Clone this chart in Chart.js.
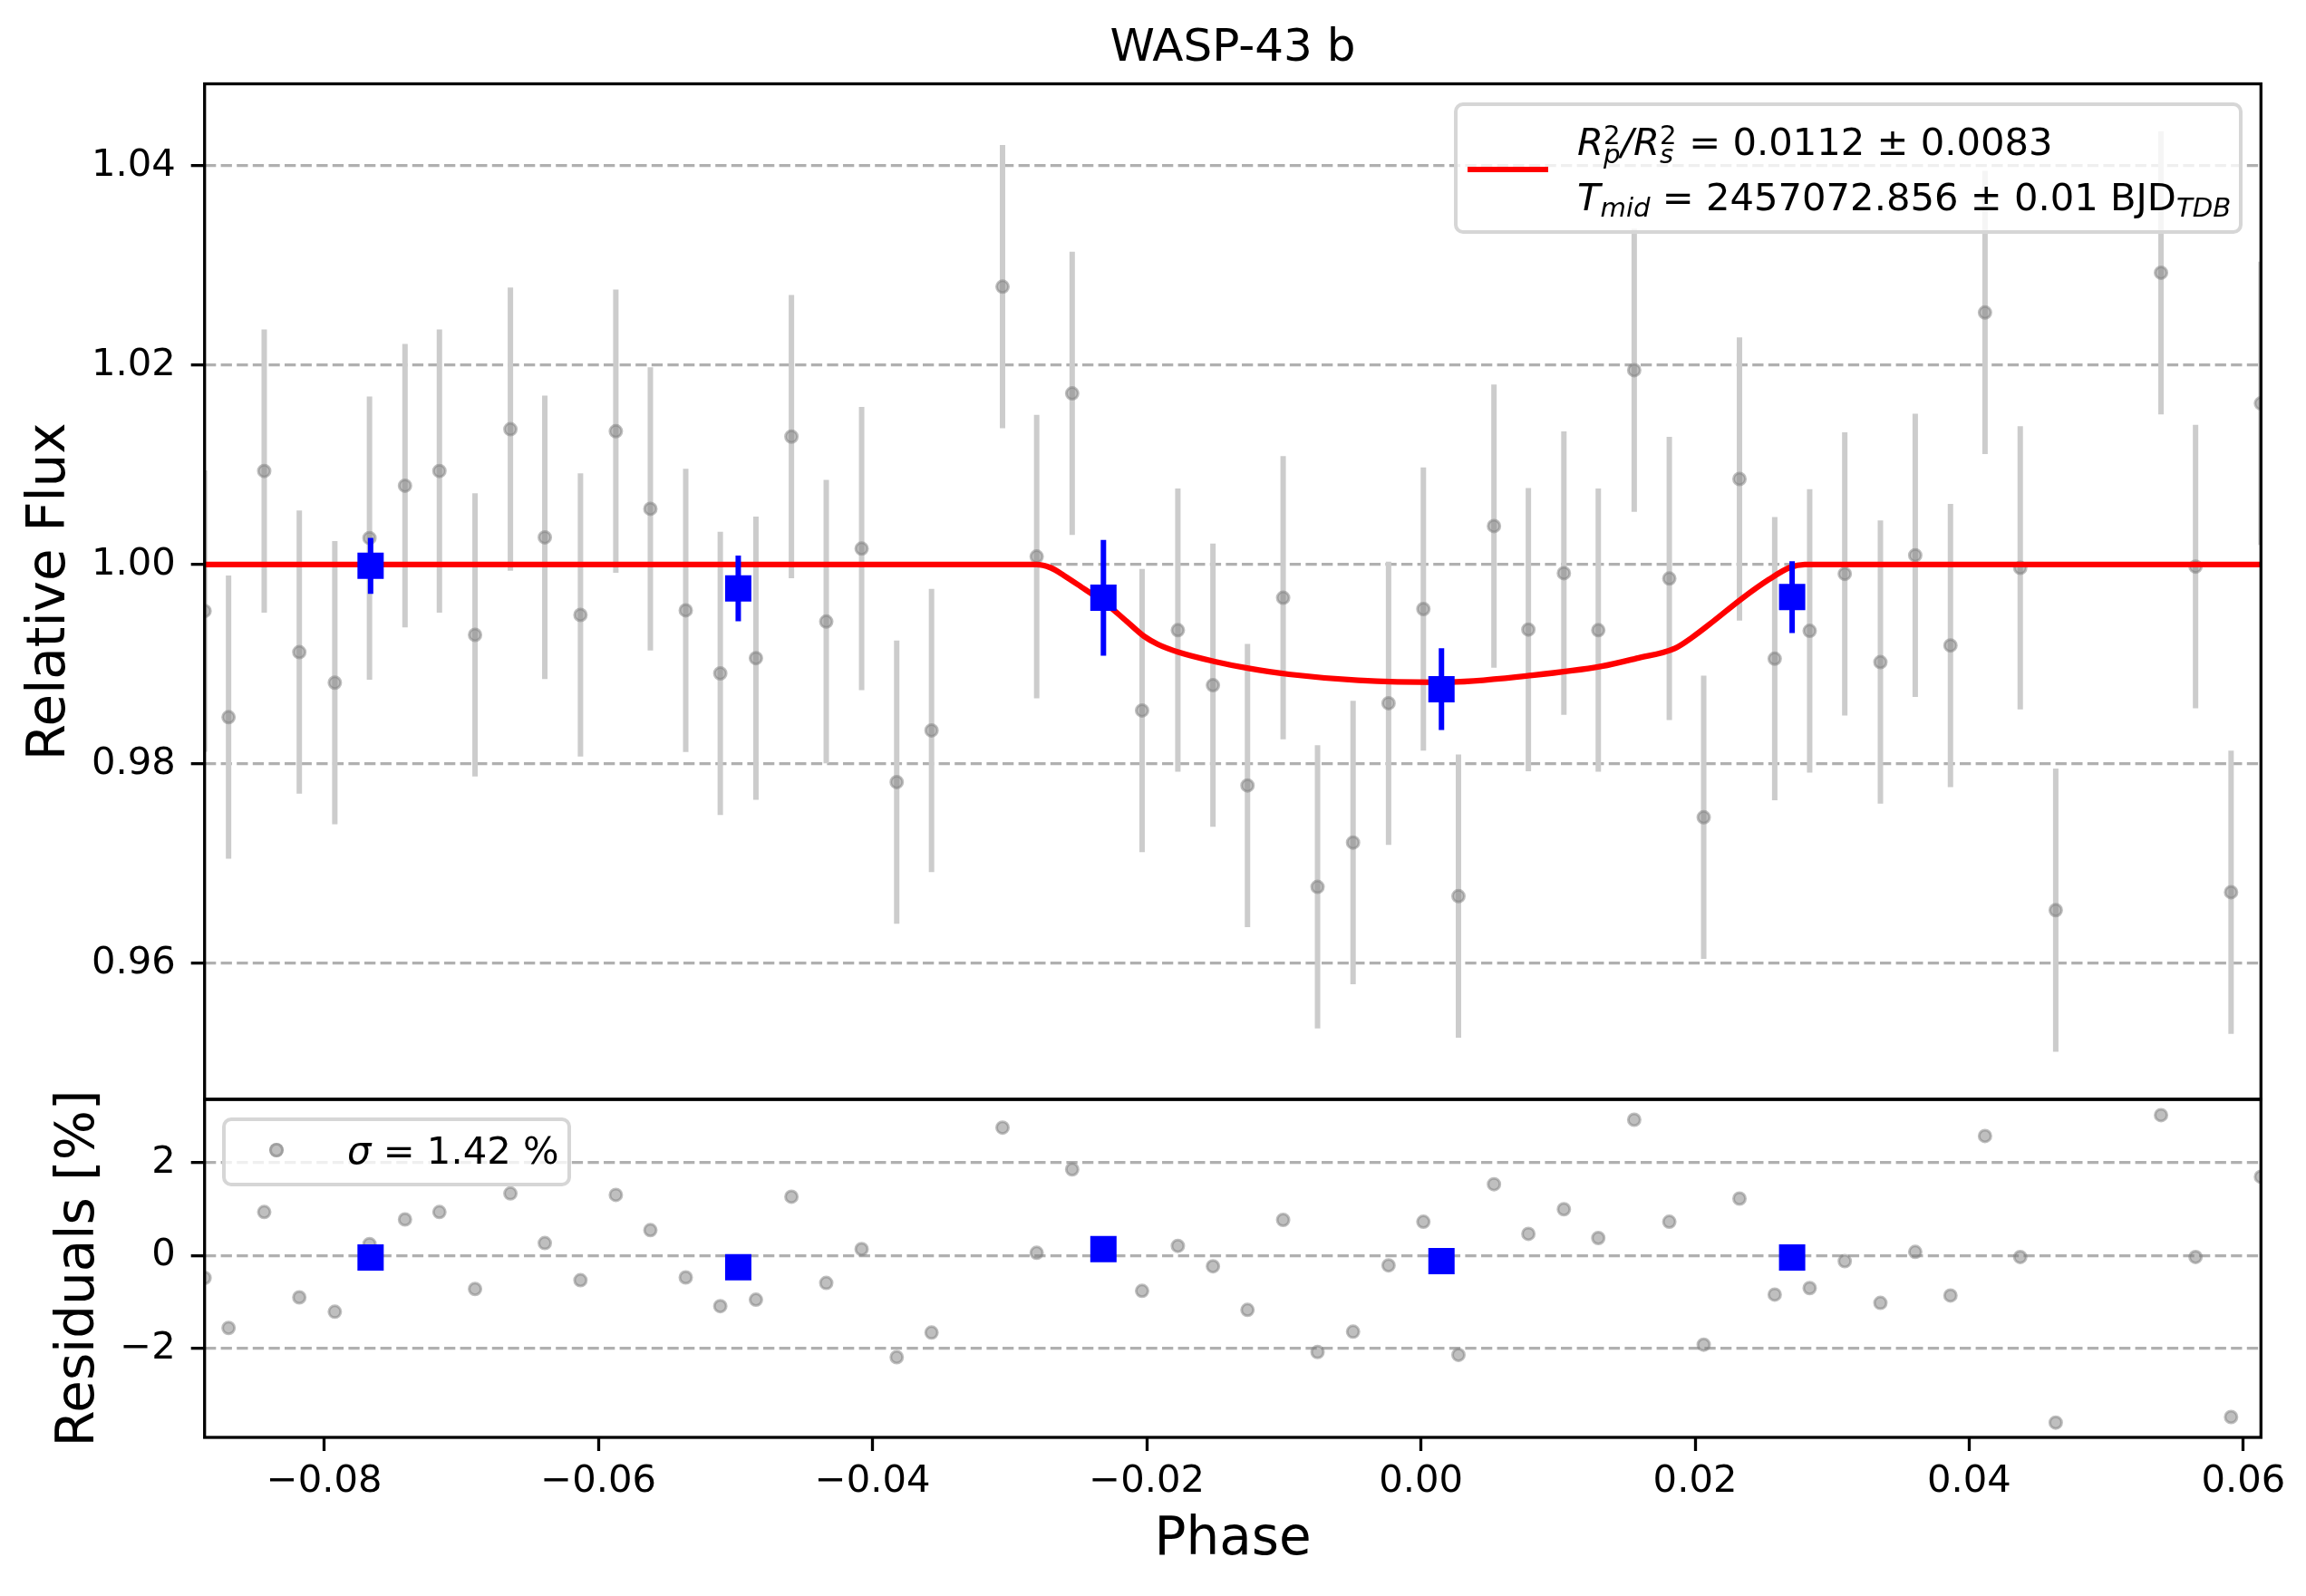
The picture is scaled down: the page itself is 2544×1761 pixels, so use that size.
<!DOCTYPE html>
<html>
<head>
<meta charset="utf-8">
<title>WASP-43 b</title>
<script src="https://cdn.jsdelivr.net/npm/chart.js@4.4.1/dist/chart.umd.min.js"></script>
<style>
  html, body { margin: 0; padding: 0; background: #fff; }
  #fig { position: relative; width: 2544px; height: 1761px; overflow: hidden; font-family: 'DejaVu Sans'; }
  canvas { position: absolute; left: 0; }
  #topChart { top: 0; }
  #resChart { top: 1163px; }
  .box { position: absolute; box-sizing: border-box; border: 4px solid rgb(214,214,214); border-radius: 10px; background: rgba(255,255,255,0.8); }
  .txt { position: absolute; white-space: nowrap; font-size: 41.7px; line-height: 1; color: #000; }
  .it { font-style: italic; }
  .st { display: inline-block; position: relative; width: 19px; height: 0; }
  .st span { position: absolute; left: 0; font-size: 29.2px; line-height: 1; }
  .st .sp { bottom: 6.5px; }
  .st .sb { bottom: -14.5px; }
  .sub { font-size: 29.2px; position: relative; top: 7px; }
</style>
</head>
<body>
<div id="fig">
  <canvas id="topChart" width="2544" height="1263"></canvas>
  <canvas id="resChart" width="2544" height="598"></canvas>

  <div class="box" style="left:1604px; top:113px; width:870px; height:145px;"></div>
  <div style="position:absolute; left:1619px; top:183.6px; width:89px; height:6.25px; background:#ff0000;"></div>
  <div class="txt" style="left:1740px; top:136px;"><span class="it">R</span><span class="st"><span class="sp">2</span><span class="sb it">p</span></span><span class="it">/R</span><span class="st"><span class="sp">2</span><span class="sb it">s</span></span> = 0.0112 ± 0.0083</div>
  <div class="txt" style="left:1740px; top:197px;"><span class="it">T</span><span class="sub it">mid</span> = 2457072.856 ± 0.01 BJD<span class="sub it">TDB</span></div>

  <div class="box" style="left:245px; top:1233px; width:385px; height:76px;"></div>
  <div style="position:absolute; left:297px; top:1261px; width:16px; height:16px; box-sizing:border-box; border-radius:50%; background:rgba(128,128,128,0.5); border:3px solid rgba(128,128,128,0.5);"></div>
  <div class="txt" style="left:383px; top:1249px;"><span class="it">σ</span> = 1.42 %</div>
</div>

<script>
// axis limits
const phaseMin = -0.08873;
const phaseMax = 0.06128;
const fluxMin = 0.94638;
const fluxMax = 1.0482;
const residMin = -3.92;
const residMax = 3.37;

// ticks
const phaseTicks = [-0.08, -0.06, -0.04, -0.02, 0.00, 0.02, 0.04, 0.06];
const phaseTickLabels = ['\u22120.08', '\u22120.06', '\u22120.04', '\u22120.02', '0.00', '0.02', '0.04', '0.06'];
const fluxTicks = [0.96, 0.98, 1.00, 1.02, 1.04];
const fluxTickLabels = ['0.96', '0.98', '1.00', '1.02', '1.04'];
const residTicks = [-2, 0, 2];
const residTickLabels = ['\u22122', '0', '2'];

// unbinned data
const phase = [-0.08873, -0.08698, -0.08438, -0.08182, -0.07923, -0.07670, -0.07411, -0.07160,
  -0.06900, -0.06642, -0.06391, -0.06131, -0.05873, -0.05621, -0.05363, -0.05111,
  -0.04851, -0.04592, -0.04338, -0.04080, -0.03824, -0.03570, -0.03052, -0.02803,
  -0.02544, -0.02034, -0.01773, -0.01517, -0.01265, -0.01005, -0.00754, -0.00495,
  -0.00236, 0.00018, 0.00274, 0.00533, 0.00784, 0.01043, 0.01294, 0.01556,
  0.01812, 0.02063, 0.02324, 0.02581, 0.02836, 0.03092, 0.03352, 0.03606,
  0.03863, 0.04115, 0.04372, 0.04631, 0.05399, 0.05651, 0.05910, 0.06128];
const flux = [0.99534, 0.98470, 1.00938, 0.99122, 0.98816, 1.00266, 1.00791, 1.00938,
  0.99295, 1.01357, 1.00273, 0.99495, 1.01337, 1.00559, 0.99541, 0.98909,
  0.99062, 1.01283, 0.99428, 1.00160, 0.97819, 0.98337, 1.02786, 1.00080,
  1.01716, 0.98537, 0.99342, 0.98790, 0.97785, 0.99667, 0.96768, 0.97213,
  0.98610, 0.99554, 0.96675, 1.00386, 0.99348, 0.99914, 0.99342, 1.01949,
  0.99860, 0.97466, 1.00858, 0.99056, 0.99335, 0.99907, 0.99022, 1.00093,
  0.99189, 1.02527, 0.99967, 0.96535, 1.02926, 0.99980, 0.96715, 1.01616];
const fluxErr = [0.0141, 0.0142, 0.0142, 0.0142, 0.0142, 0.0142, 0.0142, 0.0142,
  0.0142, 0.0142, 0.0142, 0.0142, 0.0142, 0.0142, 0.0142, 0.0142,
  0.0142, 0.0142, 0.0142, 0.0142, 0.0142, 0.0142, 0.0142, 0.0142,
  0.0142, 0.0142, 0.0142, 0.0142, 0.0142, 0.0142, 0.0142, 0.0142,
  0.0142, 0.0142, 0.0142, 0.0142, 0.0142, 0.0142, 0.0142, 0.0142,
  0.0142, 0.0142, 0.0142, 0.0142, 0.0142, 0.0142, 0.0142, 0.0142,
  0.0142, 0.0142, 0.0142, 0.0142, 0.0142, 0.0142, 0.0142, 0.0142];
const resid = [-0.48, -1.56, 0.94, -0.90, -1.21, 0.25, 0.78, 0.94,
  -0.72, 1.34, 0.27, -0.53, 1.31, 0.55, -0.47, -1.09,
  -0.95, 1.27, -0.59, 0.14, -2.19, -1.66, 2.76, 0.06,
  1.86, -0.76, 0.21, -0.23, -1.17, 0.77, -2.08, -1.64,
  -0.21, 0.73, -2.14, 1.54, 0.47, 1.00, 0.38, 2.93,
  0.73, -1.92, 1.23, -0.84, -0.70, -0.12, -1.02, 0.08,
  -0.86, 2.58, -0.03, -3.60, 3.03, -0.03, -3.48, 1.70];

// binned data
const binPhase = [-0.07662, -0.04980, -0.02316, 0.00150, 0.02708];
const binFlux = [0.99987, 0.99761, 0.99667, 0.98750, 0.99674];
const binErr = [0.0028, 0.0033, 0.0058, 0.0041, 0.0036];
const binResid = [-0.04, -0.25, 0.14, -0.12, -0.04];

// transit model
const modelPhase = [-0.08873, -0.02806, -0.02704, -0.02603, -0.02450, -0.02316, -0.02146, -0.02019,
  -0.01918, -0.01765, -0.01511, -0.01258, -0.00964, -0.00457, 0.00153, 0.00812,
  0.01318, 0.01574, 0.01853, 0.01979, 0.02132, 0.02333, 0.02538, 0.02690, 0.02800, 0.06128];
const modelFlux = [1.0, 1.0, 0.9997, 0.9989, 0.9975, 0.9963, 0.9943, 0.9928,
  0.9920, 0.9912, 0.9903, 0.9896, 0.9890, 0.9884, 0.9882, 0.9889,
  0.9898, 0.9906, 0.9916, 0.9927, 0.9943, 0.9965, 0.9985, 0.9997, 1.0, 1.0];

Chart.defaults.font.family = "'DejaVu Sans'";
Chart.defaults.color = '#000';

const pts = (xs, ys) => xs.map((x, i) => ({x: x, y: ys[i]}));

// vertical error bars, drawn just under the points of their dataset
const errorBars = {
  id: 'errorBars',
  beforeDatasetDraw(chart, args) {
    const ds = chart.data.datasets[args.index];
    if (!ds.errors) return;
    const ctx = chart.ctx, a = chart.chartArea;
    const xs = chart.scales.x, ys = chart.scales.y;
    ctx.save();
    ctx.beginPath();
    ctx.rect(a.left, a.top, a.right - a.left, a.bottom - a.top);
    ctx.clip();
    ctx.strokeStyle = ds.errorColor;
    ctx.lineWidth = ds.errorWidth;
    ds.data.forEach((p, i) => {
      const px = xs.getPixelForValue(p.x);
      ctx.beginPath();
      ctx.moveTo(px, ys.getPixelForValue(p.y - ds.errors[i]));
      ctx.lineTo(px, ys.getPixelForValue(p.y + ds.errors[i]));
      ctx.stroke();
    });
    ctx.restore();
  }
};

// black box round the axes
const frame = {
  id: 'frame',
  afterDatasetsDraw(chart) {
    const ctx = chart.ctx, a = chart.chartArea;
    ctx.save();
    ctx.strokeStyle = '#000';
    ctx.lineWidth = 3.3;
    ctx.strokeRect(a.left, a.top, a.right - a.left, a.bottom - a.top);
    ctx.restore();
  }
};

function yAxis(min, max, ticks, labels, title, titlePad) {
  return {
    type: 'linear',
    min: min,
    max: max,
    afterFit: s => { s.width = 225.7; },
    afterBuildTicks: s => { s.ticks = ticks.map(v => ({value: v})); },
    ticks: { font: {size: 41.7}, color: '#000', padding: 17, callback: (v, i) => labels[i] },
    grid: { color: '#b0b0b0', lineWidth: 3.3, tickColor: '#000', tickWidth: 3.3, tickLength: 15, tickBorderDash: [] },
    border: { display: false, dash: [12.3, 5.3] },
    title: { display: true, text: title, font: {size: 58}, color: '#000', padding: {top: titlePad, bottom: 0} }
  };
}

new Chart(document.getElementById('topChart'), {
  type: 'scatter',
  data: {
    datasets: [
      {
        label: 'data',
        data: pts(phase, flux),
        errors: fluxErr,
        errorColor: 'rgb(204,204,204)',
        errorWidth: 6,
        pointRadius: 6.5,
        pointBorderWidth: 3,
        pointBackgroundColor: 'rgba(128,128,128,0.5)',
        pointBorderColor: 'rgba(128,128,128,0.5)',
        order: 3,
        clip: 0
      },
      {
        label: 'model',
        type: 'line',
        data: pts(modelPhase, modelFlux),
        borderColor: '#ff0000',
        borderWidth: 6.25,
        pointRadius: 0,
        cubicInterpolationMode: 'monotone',
        fill: false,
        order: 2,
        clip: 0
      },
      {
        label: 'binned',
        data: pts(binPhase, binFlux),
        errors: binErr,
        errorColor: '#0000ff',
        errorWidth: 6,
        pointStyle: 'rect',
        pointRadius: 20.5,
        pointBorderWidth: 0,
        pointBackgroundColor: '#0000ff',
        pointBorderColor: '#0000ff',
        order: 1,
        clip: 0
      }
    ]
  },
  options: {
    responsive: false,
    animation: false,
    devicePixelRatio: 1,
    events: [],
    layout: { padding: {left: 0, right: 49.7, top: 0, bottom: 50} },
    plugins: {
      legend: { display: false },
      tooltip: { enabled: false },
      title: { display: true, fullSize: false, text: 'WASP-43 b', color: '#000', font: {size: 50, weight: 'normal'}, padding: {top: 24, bottom: 8.5} }
    },
    scales: {
      x: { type: 'linear', min: phaseMin, max: phaseMax, display: false },
      y: yAxis(fluxMin, fluxMax, fluxTicks, fluxTickLabels, 'Relative Flux', 21.3)
    }
  },
  plugins: [errorBars, frame]
});

new Chart(document.getElementById('resChart'), {
  type: 'scatter',
  data: {
    datasets: [
      {
        label: 'residuals',
        data: pts(phase, resid),
        pointRadius: 6.5,
        pointBorderWidth: 3,
        pointBackgroundColor: 'rgba(128,128,128,0.5)',
        pointBorderColor: 'rgba(128,128,128,0.5)',
        order: 2,
        clip: 0
      },
      {
        label: 'binned residuals',
        data: pts(binPhase, binResid),
        pointStyle: 'rect',
        pointRadius: 20.5,
        pointBorderWidth: 0,
        pointBackgroundColor: '#0000ff',
        pointBorderColor: '#0000ff',
        order: 1,
        clip: 0
      }
    ]
  },
  options: {
    responsive: false,
    animation: false,
    devicePixelRatio: 1,
    events: [],
    layout: { padding: {left: 0, right: 49.7, top: 50, bottom: 0} },
    plugins: { legend: { display: false }, tooltip: { enabled: false } },
    scales: {
      x: {
        type: 'linear',
        position: 'bottom',
        min: phaseMin,
        max: phaseMax,
        afterFit: s => { s.height = 175; },
        afterBuildTicks: s => { s.ticks = phaseTicks.map(v => ({value: v})); },
        ticks: { font: {size: 41.7}, color: '#000', padding: 9, maxRotation: 0, autoSkip: false, callback: (v, i) => phaseTickLabels[i] },
        grid: { drawOnChartArea: false, drawTicks: true, color: '#000', tickColor: '#000', tickWidth: 3.3, tickLength: 15, tickBorderDash: [] },
        border: { display: false },
        title: { display: true, text: 'Phase', font: {size: 58}, color: '#000', padding: {top: 0, bottom: 26.7} }
      },
      y: yAxis(residMin, residMax, residTicks, residTickLabels, 'Residuals [%]', 53)
    }
  },
  plugins: [frame]
});
</script>
</body>
</html>
